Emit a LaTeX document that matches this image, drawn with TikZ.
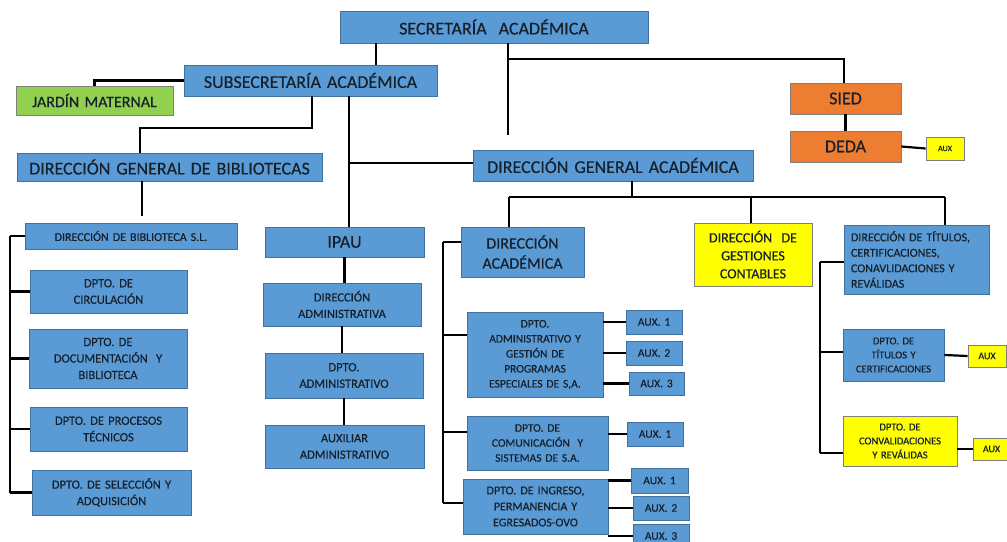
\documentclass[tikz,border=0pt]{standalone}
\usepackage{fontspec}
\setmainfont{Carlito}[WordSpace=0.7, FakeBold=0.35]

\definecolor{boxblue}{HTML}{5B9BD5}
\definecolor{boxline}{HTML}{41719C}
\definecolor{boxgreen}{HTML}{92D050}
\definecolor{boxorange}{HTML}{ED7D31}
\definecolor{boxyellow}{HTML}{FFFF00}
\definecolor{boxgrey}{HTML}{7F7F7F}
\definecolor{inktext}{HTML}{15202B}

\tikzset{
  unit/.style={draw=boxline, line width=0.8pt, fill=boxblue, text=inktext,
    align=center, inner sep=1pt, font=\fontsize{12.5}{16.5}\selectfont},
  green unit/.style={unit, fill=boxgreen, draw=boxgrey},
  orange unit/.style={unit, fill=boxorange, draw=boxgrey},
  yellow unit/.style={unit, fill=boxyellow, draw=boxgrey},
  sz/.style 2 args={minimum width=#1, minimum height=#2, text width=#1-6pt},
  big/.style={font=\fontsize{18}{21}\selectfont},
  mid/.style={font=\fontsize{16}{20}\selectfont},
  small/.style={font=\fontsize{11.5}{15}\selectfont},
  tiny/.style={font=\fontsize{10.5}{14}\selectfont},
  link/.style={line width=2.2pt, black},
}

\begin{document}
\begin{tikzpicture}[x=1pt, y=-1pt]
  \useasboundingbox (0,0) rectangle (1007,541);
  \clip (0,0) rectangle (1007,541);
  \fill[white] (0,0) rectangle (1007,541);

  % top levels
  \node[unit, big, sz={308}{32}] (sec) at (494,27) {SECRETARÍA\ \ ACADÉMICA};
  \node[unit, big, sz={253}{31}] (sub) at (310.5,80.5) {SUBSECRETARÍA ACADÉMICA};
  \node[green unit, mid, sz={157}{29}] (jardin) at (94.5,100.5) {JARDÍN\ MATERNAL};
  \node[unit, big, sz={305}{28}] (dgb) at (169.5,167) {DIRECCIÓN GENERAL DE BIBLIOTECAS};
  \node[unit, big, sz={280}{31}] (dga) at (613,165.5) {DIRECCIÓN GENERAL ACADÉMICA};
  \node[orange unit, big, sz={111}{31}] (sied) at (845.5,98.5) {SIED};
  \node[orange unit, big, sz={111}{31}] (deda) at (845.5,146.5) {DEDA};
  \node[yellow unit, font=\fontsize{8}{10}\selectfont, sz={38}{23}] (auxdeda) at (945,148.5) {AUX};

  % bibliotecas
  \node[unit, font=\fontsize{12}{15}\selectfont, sz={212}{26}] (dbsl) at (131,236) {DIRECCIÓN DE BIBLIOTECA S.L.};
  \node[unit, sz={157}{43}] (circ) at (108.5,291.5) {DPTO. DE\\CIRCULACIÓN};
  \node[unit, sz={158}{59}] (doc) at (108,358.5) {DPTO. DE\\DOCUMENTACIÓN\ \ Y\\BIBLIOTECA};
  \node[unit, sz={157}{44}] (proc) at (108.5,429) {DPTO. DE PROCESOS\\TÉCNICOS};
  \node[unit, sz={159}{45}] (sel) at (111.5,492.5) {DPTO. DE SELECCIÓN Y\\ADQUISICIÓN};

  % ipau
  \node[unit, big, sz={159}{30}] (ipau) at (344.5,242) {IPAU};
  \node[unit, sz={158}{43}] (dadm) at (342,304.5) {DIRECCIÓN\\ADMINISTRATIVA};
  \node[unit, sz={158}{45}] (dptoadm) at (344,375.5) {DPTO.\\ADMINISTRATIVO};
  \node[unit, sz={159}{43}] (auxadm) at (344.5,446.5) {AUXILIAR\\ADMINISTRATIVO};

  % direccion academica
  \node[unit, mid, sz={123}{50}] (dacad) at (522.5,252) {DIRECCIÓN\\ACADÉMICA};
  \node[unit, small, sz={136}{85}] (dagp) at (535,354.5) {DPTO.\\ADMINISTRATIVO Y\\GESTIÓN DE\\PROGRAMAS\\ESPECIALES DE S,A.};
  \node[unit, small, sz={56}{24}] (ag1) at (654,322) {AUX. 1};
  \node[unit, small, sz={56}{24}] (ag2) at (654,353) {AUX. 2};
  \node[unit, small, sz={55}{23}] (ag3) at (656.5,383.5) {AUX. 3};
  \node[unit, small, sz={141}{54}] (dcom) at (537.5,443) {DPTO. DE\\COMUNICACIÓN\ \ Y\\SISTEMAS DE S.A.};
  \node[unit, small, sz={56}{24}] (ac1) at (655,434) {AUX. 1};
  \node[unit, font=\fontsize{12}{16}\selectfont, sz={145}{55}] (ding) at (535.5,506.5) {DPTO. DE INGRESO,\\PERMANENCIA Y\\EGRESADOS-OVO};
  \node[unit, small, sz={57}{25}] (ai1) at (659.5,480.5) {AUX. 1};
  \node[unit, small, sz={56}{24}] (ai2) at (661,508) {AUX. 2};
  \node[unit, small, sz={56}{24}] (ai3) at (661,536) {AUX. 3};

  % gestiones y titulos
  \node[yellow unit, font=\fontsize{14}{18}\selectfont, sz={118}{63}] (dgc) at (753,254.5) {DIRECCIÓN\ \ DE\\GESTIONES\\CONTABLES};
  \node[unit, font=\fontsize{12}{15.5}\selectfont, align=left, sz={145}{69}, text width=131pt] (dtit) at (916.5,259.5) {DIRECCIÓN DE TÍTULOS,\\CERTIFICACIONES,\\CONAVLIDACIONES Y\\REVÁLIDAS};
  \node[unit, tiny, sz={101}{52}] (dptit) at (893.5,355) {DPTO. DE\\TÍTULOS Y\\CERTIFICACIONES};
  \node[yellow unit, font=\fontsize{10}{12}\selectfont, sz={38}{22}] (auxtit) at (987,356) {AUX};
  \node[yellow unit, tiny, sz={114}{50}] (dconv) at (900,441) {DPTO. DE\\CONVALIDACIONES\\Y REVÁLIDAS};
  \node[yellow unit, font=\fontsize{10}{12}\selectfont, sz={37}{22}] (auxconv) at (991.5,449) {AUX};

  % bends and bus points
  \coordinate (ks) at (376,0);
  \coordinate (kb1) at (312,128);
  \coordinate (kb2) at (140,128);
  \coordinate (kb3) at (142,0);
  \coordinate (ki) at (349,163);
  \coordinate (ke1) at (508,59);
  \coordinate (ke2) at (508,135);
  \coordinate (ke3) at (844,0);
  \coordinate (kg) at (632,197);
  \coordinate (kl) at (509,197);
  \coordinate (kr) at (945,197);
  \coordinate (km) at (751,197);
  \coordinate (bb) at (10,0);
  \coordinate (ba1) at (443,242);
  \coordinate (ba2) at (443,335);
  \coordinate (ba3) at (443,432);
  \coordinate (ba4) at (443,503);
  \coordinate (bt1) at (820,262);
  \coordinate (bt2) at (820,352);
  \coordinate (bt3) at (820,453);

  % connectors
  \draw[link] (sec.south -| ks) -- (sub.north -| ks);
  \draw[link] (sub.west) -| (jardin.north);
  \draw[link] (sub.south -| kb1) -- (kb1) -- (kb2) -- (dgb.north -| kb2);
  \draw[link] (sub.south -| ki) -- (ipau.north -| ki);
  \draw[link] (ki) -- (ki -| dga.west);
  \draw[link] (sec.south -| ke1) -- (ke2);
  \draw[link] (ke1) -| (sied.north -| ke3);
  \draw[link] (sied) -- (deda);
  \draw[link] (deda.east) -- (auxdeda.west);

  \draw[link, shorten >=7pt] (dgb.south -| kb3) -- (dbsl.north -| kb3);
  \draw[link] (bb |- dbsl.west) -- (bb |- sel.west);
  \foreach \n in {dbsl,circ,doc,proc,sel}
    \draw[link] (bb |- \n.west) -- (\n.west);

  \draw[link] (ipau.south) -- (ipau.south |- dadm.north);
  \draw[link] (dadm.south) -- (dadm.south |- dptoadm.north);
  \draw[link] (dptoadm.south) -- (dptoadm.south |- auxadm.north);

  \draw[link] (dga.south -| kg) -- (kg);
  \draw[link] (kl) -- (kr);
  \draw[link] (kl) -- (dacad.north -| kl);
  \draw[link] (km) -- (dgc.north -| km);
  \draw[link] (kr) -- (dtit.north -| kr);

  \draw[link] (ba1) -- (ba4);
  \draw[link] (ba1) -- (ba1 -| dacad.west);
  \draw[link] (ba2) -- (ba2 -| dagp.west);
  \draw[link] (ba3) -- (ba3 -| dcom.west);
  \draw[link] (ba4) -- (ba4 -| ding.west);
  \foreach \n in {ag1,ag2,ag3}
    \draw[link] (\n.west -| dagp.east) -- (\n.west);
  \draw[link] (ac1.west -| dcom.east) -- (ac1.west);
  \foreach \n in {ai1,ai2,ai3}
    \draw[link] (\n.west -| ding.east) -- (\n.west);

  \draw[link] (bt1) -- (bt3);
  \draw[link] (bt1) -- (bt1 -| dtit.west);
  \draw[link] (bt2) -- (bt2 -| dptit.west);
  \draw[link] (bt3) -- (bt3 -| dconv.west);
  \draw[link] (dptit.east) -- (auxtit.west);
  \draw[link] (auxconv.west -| dconv.east) -- (auxconv.west);
\end{tikzpicture}
\end{document}
